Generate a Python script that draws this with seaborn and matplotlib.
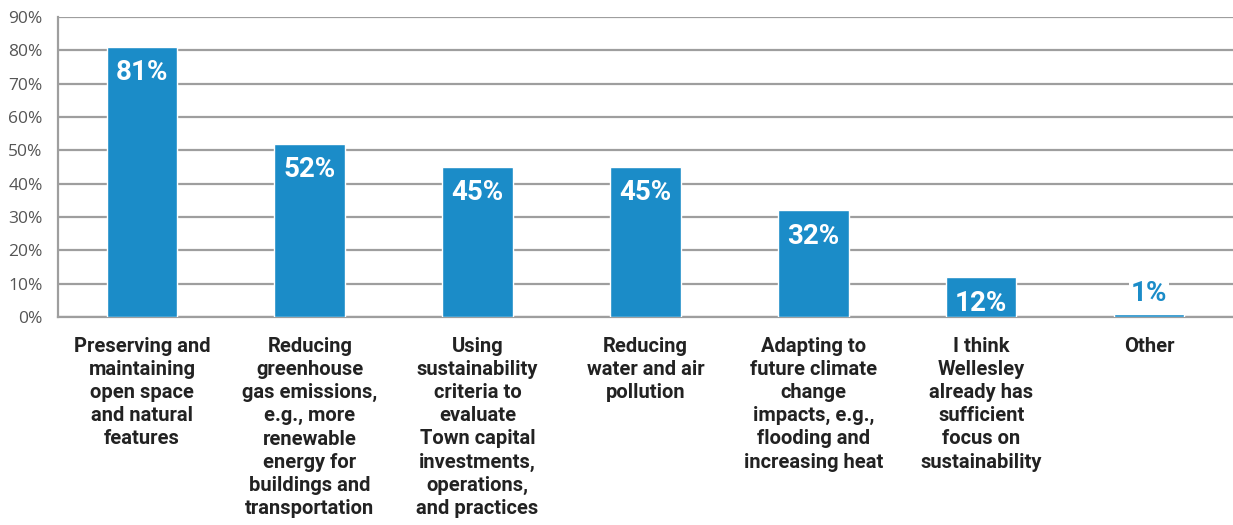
import matplotlib
matplotlib.use("Agg")
import matplotlib.pyplot as plt
import seaborn as sns
import pandas as pd

# survey answers (share of respondents)
categories = [
    "Preserving and\nmaintaining\nopen space\nand natural\nfeatures",
    "Reducing\ngreenhouse\ngas emissions,\ne.g., more\nrenewable\nenergy for\nbuildings and\ntransportation",
    "Using\nsustainability\ncriteria to\nevaluate\nTown capital\ninvestments,\noperations,\nand practices",
    "Reducing\nwater and air\npollution",
    "Adapting to\nfuture climate\nchange\nimpacts, e.g.,\nflooding and\nincreasing heat",
    "I think\nWellesley\nalready has\nsufficient\nfocus on\nsustainability",
    "Other",
]
values = [81, 52, 45, 45, 32, 12, 1]
y_ticks = [0, 10, 20, 30, 40, 50, 60, 70, 80, 90]

blue = "#1b8cc8"
grid = "#9e9e9e"

sns.set_style("white")
plt.rcParams['font.family'] = ['Roboto', 'DejaVu Sans']

df = pd.DataFrame({"cat": categories, "val": values})

fig = plt.figure(figsize=(12.33, 5.25), dpi=100)
ax = fig.add_axes([0.047, 0.396, 0.953, 0.572])

sns.barplot(data=df, x="cat", y="val", color=blue, width=0.42, saturation=1, ax=ax, zorder=3)

ax.set_ylim(0, 90)
ax.set_xlim(-0.5, len(categories) - 0.5)
ax.set_yticks(y_ticks)
ax.set_yticklabels([f"{t}%" for t in y_ticks], color="#555555", fontsize=12.5,
                   family=["Open Sans", "DejaVu Sans"])
ax.yaxis.grid(True, color=grid, lw=1.6, zorder=0)
ax.set_axisbelow(True)
ax.tick_params(axis="y", length=9, width=1.6, color=grid, pad=2)

# category separators as minor ticks
ax.set_xticks([i - 0.5 for i in range(len(categories) + 1)], minor=True)
ax.tick_params(axis="x", which="minor", length=7, width=1.6, color=grid, direction="out")
ax.tick_params(axis="x", which="major", length=0, pad=14)
ax.set_xticks(range(len(categories)))
ax.set_xticklabels(categories, fontsize=14.5, fontweight="bold", color="#222222",
                   va="top", ha="center", linespacing=1.28)

for s in ["top", "right"]:
    ax.spines[s].set_visible(False)
ax.spines["left"].set_color(grid)
ax.spines["left"].set_linewidth(1.6)
ax.spines["bottom"].set_color(grid)
ax.spines["bottom"].set_linewidth(1.6)
ax.set_xlabel("")
ax.set_ylabel("")

# value labels
for i, v in enumerate(values):
    if v > 5:
        ax.text(i, v - 7.8, f"{v}%", ha="center", va="center", color="white",
                fontsize=20, fontweight="bold", zorder=5)
    else:
        ax.text(i, 7, f"{v}%", ha="center", va="center", color=blue,
                fontsize=20, fontweight="bold", zorder=5,
                bbox=dict(facecolor="white", edgecolor="none", pad=1))

fig.savefig("out.png", dpi=100)
